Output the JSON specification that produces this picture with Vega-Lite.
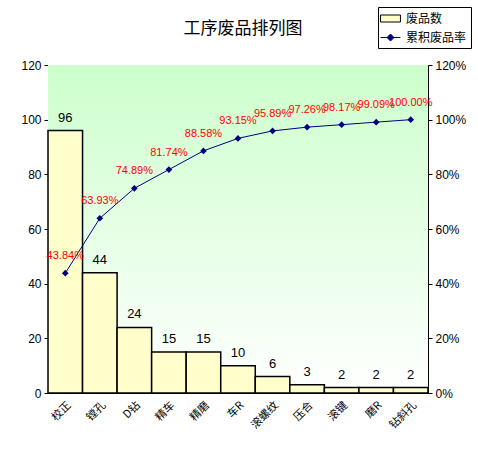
{
  "$schema": "https://vega.github.io/schema/vega-lite/v6.json",
  "width": 380,
  "height": 328,
  "autosize": {"type": "none"},
  "padding": {"left": 48, "top": 65, "right": 50, "bottom": 56},
  "background": "white",
  "title": {
    "text": "工序废品排列图",
    "font": "Noto Sans CJK SC",
    "fontSize": 17,
    "fontWeight": "normal",
    "color": "black",
    "offset": 0,
    "dy": 31,
    "dx": 5
  },
  "datasets": {
    "procs": [
      {"proc": "校正", "count": 96, "cum": 0.4384},
      {"proc": "镗孔", "count": 44, "cum": 0.6393},
      {"proc": "D钻", "count": 24, "cum": 0.7489},
      {"proc": "精车", "count": 15, "cum": 0.8174},
      {"proc": "精磨", "count": 15, "cum": 0.8858},
      {"proc": "车R", "count": 10, "cum": 0.9315},
      {"proc": "滚螺纹", "count": 6, "cum": 0.9589},
      {"proc": "压合", "count": 3, "cum": 0.9726},
      {"proc": "滚键", "count": 2, "cum": 0.9817},
      {"proc": "磨R", "count": 2, "cum": 0.9909},
      {"proc": "钻斜孔", "count": 2, "cum": 1.0}
    ],
    "bg": [{"lo": 0, "hi": 120}],
    "keys": [{"series": "废品数"}, {"series": "累积废品率"}]
  },
  "layer": [
    {
      "layer": [
        {
          "data": {"name": "bg"},
          "mark": {
            "type": "rect",
            "color": {
              "gradient": "linear",
              "x1": 0, "y1": 0, "x2": 0, "y2": 1,
              "stops": [
                {"offset": 0, "color": "#CCFFCC"},
                {"offset": 1, "color": "#FFFFFF"}
              ]
            }
          },
          "encoding": {
            "y": {
              "field": "hi",
              "type": "quantitative",
              "title": null,
              "scale": {"domain": [0, 120], "nice": false},
              "axis": {"values": [0, 20, 40, 60, 80, 100, 120]}
            },
            "y2": {"field": "lo"}
          }
        },
        {
          "data": {"name": "procs"},
          "mark": {"type": "bar", "fill": "#FFFFCC", "stroke": "black", "strokeWidth": 1.5},
          "encoding": {
            "x": {
              "field": "proc",
              "type": "nominal",
              "sort": null,
              "title": null,
              "scale": {"paddingInner": 0, "paddingOuter": 0}
            },
            "y": {"field": "count", "type": "quantitative", "title": null}
          }
        },
        {
          "data": {"name": "procs"},
          "mark": {
            "type": "text",
            "font": "Liberation Sans",
            "fontSize": 13,
            "color": "black",
            "baseline": "alphabetic",
            "dy": -9
          },
          "encoding": {
            "x": {"field": "proc", "type": "nominal", "sort": null, "title": null},
            "y": {"field": "count", "type": "quantitative", "title": null},
            "text": {"field": "count", "type": "quantitative"}
          }
        }
      ]
    },
    {
      "data": {"name": "procs"},
      "layer": [
        {
          "mark": {
            "type": "line",
            "color": "#000080",
            "strokeWidth": 1,
            "point": {"shape": "diamond", "filled": true, "size": 45, "color": "#000080"}
          },
          "encoding": {
            "x": {"field": "proc", "type": "nominal", "sort": null, "title": null},
            "y": {
              "field": "cum",
              "type": "quantitative",
              "title": null,
              "scale": {"domain": [0, 1.2], "nice": false},
              "axis": {
                "orient": "right",
                "format": ".0%",
                "values": [0, 0.2, 0.4, 0.6, 0.8, 1.0, 1.2]
              }
            }
          }
        },
        {
          "mark": {
            "type": "text",
            "font": "Liberation Sans",
            "fontSize": 11,
            "color": "#FF0000",
            "baseline": "middle",
            "dy": -17
          },
          "encoding": {
            "x": {"field": "proc", "type": "nominal", "sort": null, "title": null},
            "y": {"field": "cum", "type": "quantitative", "title": null},
            "text": {"field": "cum", "type": "quantitative", "format": ".2%"}
          }
        }
      ]
    },
    {
      "data": {"name": "keys"},
      "mark": {"type": "point", "filled": true, "strokeWidth": 1},
      "encoding": {
        "opacity": {"value": 0},
        "fill": {
          "field": "series",
          "type": "nominal",
          "sort": null,
          "scale": {"domain": ["废品数", "累积废品率"], "range": ["#FFFFCC", "#000080"]},
          "legend": {"title": null}
        },
        "stroke": {
          "field": "series",
          "type": "nominal",
          "sort": null,
          "scale": {"domain": ["废品数", "累积废品率"], "range": ["#000000", "#000080"]},
          "legend": {"title": null}
        },
        "shape": {
          "field": "series",
          "type": "nominal",
          "sort": null,
          "scale": {
            "domain": ["废品数", "累积废品率"],
            "range": ["M-1.42,-0.5H1.42V0.5H-1.42Z", "M-1.42,0H1.42M0,-0.5L0.5,0L0,0.5L-0.5,0Z"]
          },
          "legend": {"title": null}
        }
      }
    }
  ],
  "resolve": {"scale": {"y": "independent"}},
  "config": {
    "view": {"stroke": "#808080", "strokeWidth": 1},
    "legend": {
      "orient": "none",
      "legendX": 330,
      "legendY": -58,
      "strokeColor": "black",
      "fillColor": "white",
      "padding": 4,
      "rowPadding": 5,
      "symbolSize": 196,
      "symbolOpacity": 1,
      "symbolStrokeWidth": 1,
      "symbolOffset": 1,
      "labelOffset": 8,
      "labelFont": "Noto Sans CJK SC",
      "labelFontSize": 12,
      "labelColor": "black"
    },
    "axis": {
      "grid": false,
      "domainColor": "black",
      "domainWidth": 1,
      "tickColor": "black",
      "tickSize": 4,
      "labelColor": "black",
      "labelFont": "Liberation Sans",
      "labelFontSize": 12,
      "labelPadding": 3
    },
    "axisX": {
      "labelAngle": -45,
      "labelFont": "Noto Sans CJK SC",
      "labelFontSize": 11,
      "ticks": false,
      "labelPadding": 6
    }
  }
}
